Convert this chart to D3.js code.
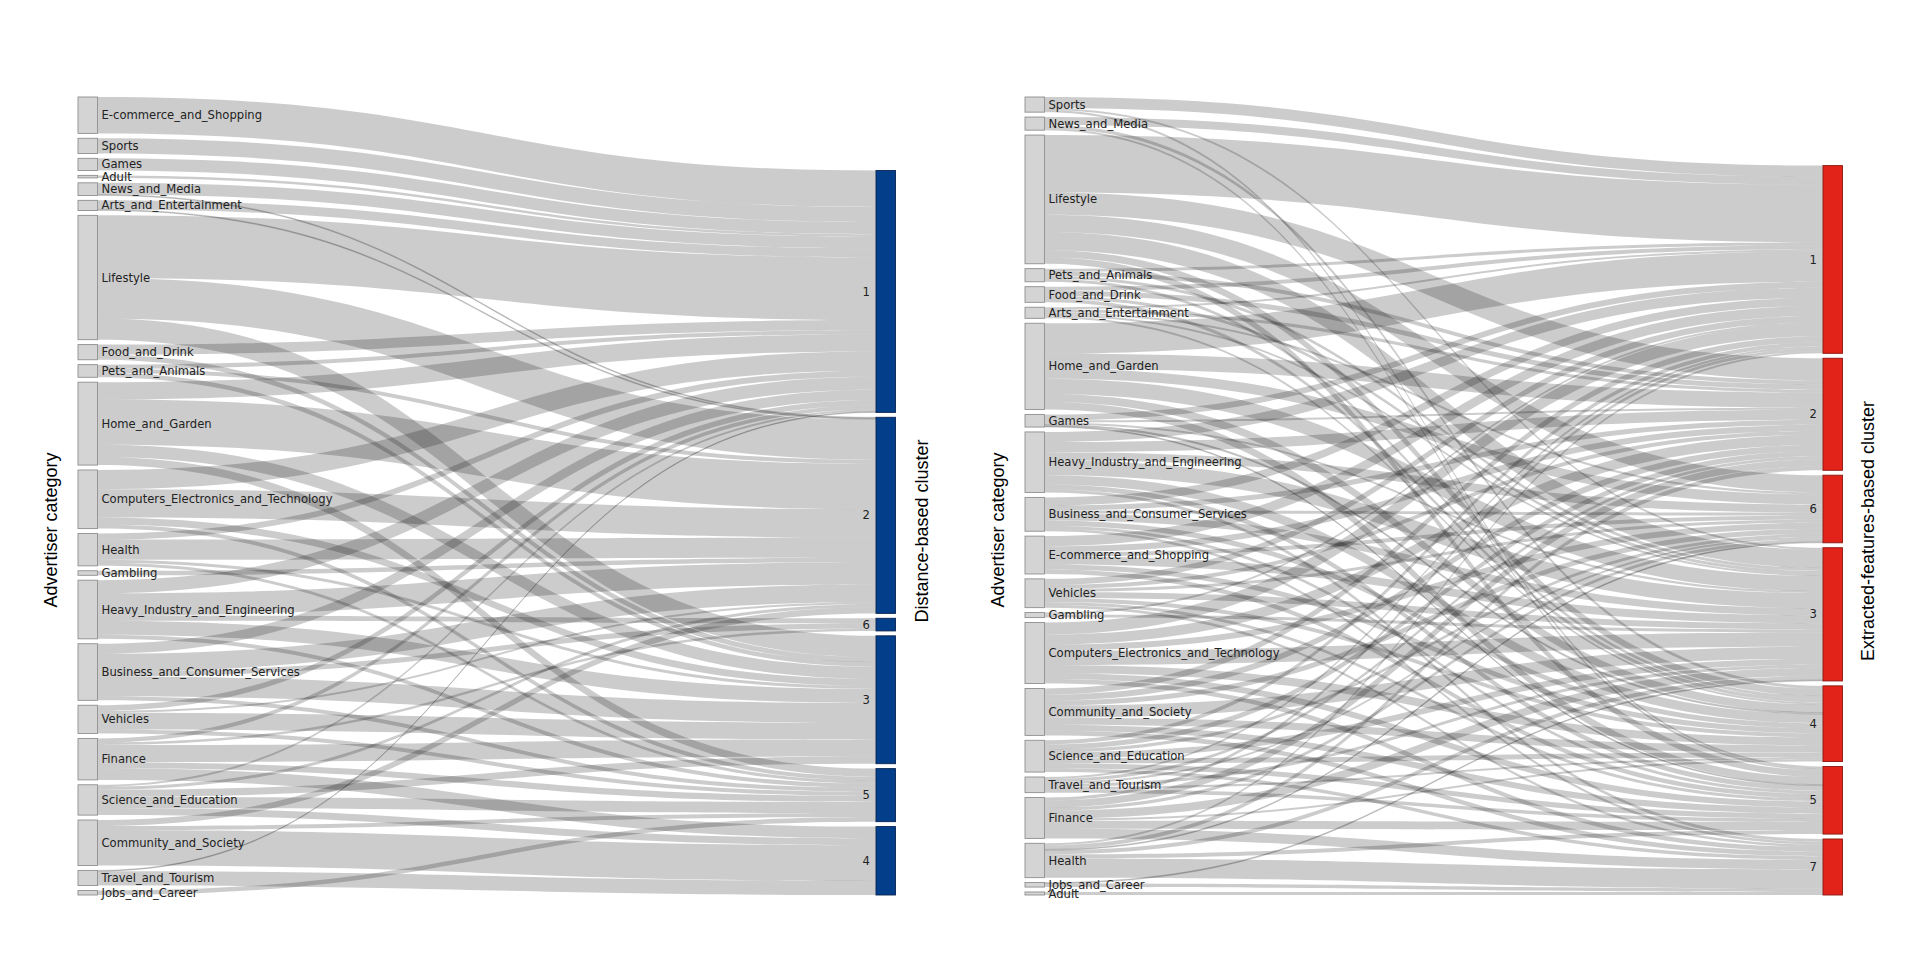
<!DOCTYPE html>
<html>
<head>
<meta charset="utf-8">
<script src="https://cdn.jsdelivr.net/npm/d3@7"></script>
<style>
  body { margin: 0; background: #fff; }
</style>
</head>
<body>
<div id="chart"></div>
<script>
// ---- data (units ~ advertisers) ----
const categoriesLeft = ["E-commerce_and_Shopping", "Sports", "Games", "Adult", "News_and_Media",
  "Arts_and_Entertainment", "Lifestyle", "Food_and_Drink", "Pets_and_Animals", "Home_and_Garden",
  "Computers_Electronics_and_Technology", "Health", "Gambling", "Heavy_Industry_and_Engineering",
  "Business_and_Consumer_Services", "Vehicles", "Finance", "Science_and_Education",
  "Community_and_Society", "Travel_and_Tourism", "Jobs_and_Career"]
const clustersLeft = ["1", "2", "6", "3", "5", "4"]
// rows follow categoriesLeft, columns follow clustersLeft
const flowsLeft = [
  [36, 0, 0, 0, 0, 0],
  [15, 0, 0, 0, 0, 0],
  [12, 0, 0, 0, 0, 0],
  [2.5, 0, 0, 0, 0, 0],
  [11.5, 1, 0, 0, 0, 0],
  [9, 1, 0, 0, 0, 0],
  [62, 40, 0, 21, 0, 0],
  [10, 0, 0, 5, 0, 0],
  [4, 4, 0, 4.5, 0, 0],
  [17, 45, 0, 12, 8, 0],
  [19, 28, 0, 7, 4, 0],
  [6, 20, 0, 3, 3, 0],
  [0, 4.5, 0, 0, 0, 0],
  [13, 22, 5, 14, 4, 0],
  [10, 17.5, 5, 19.5, 4, 0],
  [5.5, 2, 0, 16.5, 4, 0],
  [4, 0, 2.5, 17, 6, 11.5],
  [2, 3, 0, 7, 11, 7],
  [0, 6, 0, 0, 4, 35],
  [0.8, 0, 0, 0, 0, 14.2],
  [0, 0, 0, 0, 4.5, 0]
]

const categoriesRight = ["Sports", "News_and_Media", "Lifestyle", "Pets_and_Animals", "Food_and_Drink",
  "Arts_and_Entertainment", "Home_and_Garden", "Games", "Heavy_Industry_and_Engineering",
  "Business_and_Consumer_Services", "E-commerce_and_Shopping", "Vehicles", "Gambling",
  "Computers_Electronics_and_Technology", "Community_and_Society", "Science_and_Education",
  "Travel_and_Tourism", "Finance", "Health", "Jobs_and_Career", "Adult"]
const clustersRight = ["1", "2", "6", "3", "4", "5", "7"]
const flowsRight = [
  [11, 0, 0, 2, 0, 2, 0],
  [8, 0, 0, 0, 3, 2, 0],
  [57, 22, 17, 18, 7, 6.5, 0],
  [3, 4, 0, 3, 3, 0, 0],
  [4, 5, 0, 3, 3.5, 0, 0],
  [2, 3, 2, 2, 2, 0, 0],
  [30, 15, 10, 15, 8, 7.5, 0],
  [6, 2, 0, 2, 1.5, 1, 0],
  [10, 10, 8, 15, 9, 5, 3],
  [8, 5, 3, 7, 5, 3, 2.5],
  [10, 6, 4, 8, 5, 4.5, 0],
  [6, 4, 3, 6, 4, 3, 2.5],
  [2, 0, 0, 3, 0, 0, 0],
  [12, 10, 6, 14, 8, 6, 4.5],
  [6, 6, 5, 12, 7, 6, 4.5],
  [4, 5, 3, 6, 5, 5, 3.5],
  [2, 3, 2, 3, 2, 3.5, 0],
  [3, 7, 3, 8, 2, 8, 9.5],
  [2, 4, 1, 4, 0, 4, 19],
  [0, 0, 0, 1, 0, 0, 3.5],
  [0, 0, 0, 0, 0, 0, 3]
]

// ---- page ----
const width = 1920, height = 974
const svg = d3.select("#chart").append("svg")
  .attr("width", width)
  .attr("height", height)

const panels = [
  {sources: categoriesLeft, targets: clustersLeft, flows: flowsLeft,
   srcX: 78, tgtX: 876, fill: "#023e8a", stroke: "#0a2350",
   leftTitle: "Advertiser category", leftTitleX: 57,
   rightTitle: "Distance-based cluster", rightTitleX: 928},
  {sources: categoriesRight, targets: clustersRight, flows: flowsRight,
   srcX: 1025, tgtX: 1823, fill: "#e2231a", stroke: "#8a1810",
   leftTitle: "Advertiser category", leftTitleX: 1004,
   rightTitle: "Extracted-features-based cluster", rightTitleX: 1874}
]

const yTop = 97, yBottom = 895, nodePad = 4.9, nodeWidth = 19.5

panels.forEach(p => drawSankey(svg.append("g"), p))

function drawSankey(g, p) {
  const srcTotals = p.flows.map(r => d3.sum(r))
  const tgtTotals = p.targets.map((t, j) => d3.sum(p.flows, r => r[j]))
  const total = d3.sum(srcTotals)

  // value -> pixels, sized so the category column fills the height
  const ky = (yBottom - yTop - (p.sources.length - 1) * nodePad) / total
  const y = d3.scaleLinear().domain([0, total]).range([0, total * ky])

  // category column, from the top
  let acc = yTop
  const srcNodes = p.sources.map((name, i) => {
    const n = {name, y0: acc, y1: acc + y(srcTotals[i])}
    acc = n.y1 + nodePad
    return n
  })
  // cluster column, aligned to the bottom
  const tgtHeight = y(d3.sum(tgtTotals)) + (p.targets.length - 1) * nodePad
  acc = yBottom - tgtHeight
  const tgtNodes = p.targets.map((name, j) => {
    const n = {name, y0: acc, y1: acc + y(tgtTotals[j])}
    acc = n.y1 + nodePad
    return n
  })

  // links: stacked by target order at the source, by source order at the target
  const links = []
  const srcOff = srcNodes.map(n => n.y0)
  p.flows.forEach((row, i) => {
    row.forEach((v, j) => {
      if (v <= 0) return
      const w = y(v)
      links.push({i, j, v, w, sy0: srcOff[i], sy1: srcOff[i] + w})
      srcOff[i] += w
    })
  })
  const tgtOff = tgtNodes.map(n => n.y0)
  p.targets.forEach((t, j) => {
    links.filter(l => l.j === j).sort((a, b) => a.i - b.i).forEach(l => {
      l.ty0 = tgtOff[j]
      l.ty1 = tgtOff[j] + l.w
      tgtOff[j] += l.w
    })
  })

  const xs = p.srcX + nodeWidth, xt = p.tgtX, xm = (xs + xt) / 2
  function ribbon(l) {
    const path = d3.path()
    path.moveTo(xs, l.sy0)
    path.bezierCurveTo(xm, l.sy0, xm, l.ty0, xt, l.ty0)
    path.lineTo(xt, l.ty1)
    path.bezierCurveTo(xm, l.ty1, xm, l.sy1, xs, l.sy1)
    path.closePath()
    return path.toString()
  }

  g.append("g").selectAll("path")
    .data(links)
    .enter()
    .append("path")
    .attr("d", ribbon)
    .attr("fill", "#000")
    .attr("fill-opacity", 0.2)
    .attr("stroke", d => d.w < 1.6 ? "#000" : "none")
    .attr("stroke-opacity", 0.22)
    .attr("stroke-width", 0.6)

  // category boxes
  g.append("g").selectAll("rect")
    .data(srcNodes)
    .enter()
    .append("rect")
    .attr("x", p.srcX)
    .attr("y", d => d.y0)
    .attr("width", nodeWidth)
    .attr("height", d => Math.max(d.y1 - d.y0, 1))
    .attr("fill", "#d4d4d4")
    .attr("stroke", "#8f8f8f")
    .attr("stroke-width", 0.9)

  // cluster bars
  g.append("g").selectAll("rect")
    .data(tgtNodes)
    .enter()
    .append("rect")
    .attr("x", p.tgtX)
    .attr("y", d => d.y0)
    .attr("width", nodeWidth)
    .attr("height", d => d.y1 - d.y0)
    .attr("fill", p.fill)
    .attr("stroke", p.stroke)
    .attr("stroke-width", 0.9)

  g.append("g").selectAll("text")
    .data(srcNodes)
    .enter()
    .append("text")
    .attr("x", xs + 4)
    .attr("y", d => (d.y0 + d.y1) / 2)
    .attr("dy", "0.35em")
    .attr("font-family", "DejaVu Sans")
    .attr("font-size", 11.6)
    .attr("fill", "#222")
    .text(d => d.name)

  g.append("g").selectAll("text")
    .data(tgtNodes)
    .enter()
    .append("text")
    .attr("x", p.tgtX - 6)
    .attr("y", d => (d.y0 + d.y1) / 2)
    .attr("dy", "0.35em")
    .attr("text-anchor", "end")
    .attr("font-family", "DejaVu Sans")
    .attr("font-size", 11.6)
    .attr("fill", "#222")
    .text(d => d.name)

  // axis titles
  g.append("text")
    .attr("transform", "translate(" + p.leftTitleX + ",530) rotate(-90)")
    .attr("text-anchor", "middle")
    .attr("font-family", "Liberation Sans, Arial, sans-serif")
    .attr("font-size", 18)
    .text(p.leftTitle)

  g.append("text")
    .attr("transform", "translate(" + p.rightTitleX + ",531) rotate(-90)")
    .attr("text-anchor", "middle")
    .attr("font-family", "Liberation Sans, Arial, sans-serif")
    .attr("font-size", 18)
    .text(p.rightTitle)
}
</script>
</body>
</html>
